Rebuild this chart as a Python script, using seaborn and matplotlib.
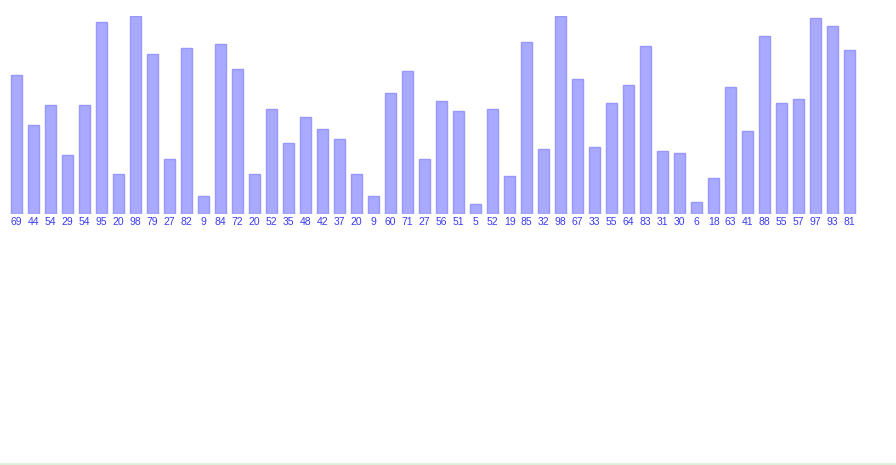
import matplotlib
matplotlib.use("Agg")
import matplotlib.pyplot as plt
import seaborn as sns
import pandas as pd
from matplotlib.lines import Line2D

values = [69, 44, 54, 29, 54, 95, 20, 98, 79, 27, 82, 9, 84, 72, 20, 52, 35, 48, 42, 37,
          20, 9, 60, 71, 27, 56, 51, 5, 52, 19, 85, 32, 98, 67, 33, 55, 64, 83, 31, 30,
          6, 18, 63, 41, 88, 55, 57, 97, 93, 81]
labels = [str(v) for v in values]
positions = list(range(len(values)))

df = pd.DataFrame({"pos": positions, "value": values})

sns.set_theme(style="white")
plt.rcParams['font.family'] = ['Liberation Sans', 'DejaVu Sans']

W, H = 896, 465
fig = plt.figure(figsize=(W / 100, H / 100), dpi=100)
left_px, right_px = 8.2, 858.2
top_px, bottom_px = 16, 214
ax = fig.add_axes([left_px / W, 1 - bottom_px / H, (right_px - left_px) / W, (bottom_px - top_px) / H])

sns.barplot(data=df, x="pos", y="value", ax=ax, color="#a9a9ff", saturation=1,
            width=0.68, edgecolor="#9898fb", linewidth=1.0, native_scale=True)

ax.set_xlim(-0.5, len(values) - 0.5)
ax.set_ylim(0, 98)
ax.set_xticks(positions)
ax.set_xticklabels(labels, fontsize=7.5, color="#3a3af5")
ax.tick_params(axis="x", length=0, pad=2.5)
ax.set_yticks([])
ax.set_xlabel("")
ax.set_ylabel("")
for s in ax.spines.values():
    s.set_visible(False)
ax.set_facecolor("none")

fig.add_artist(Line2D([0, 1], [1.5 / H, 1.5 / H], color="#dcefd8", linewidth=2, transform=fig.transFigure))

fig.savefig("out.png", dpi=100)
